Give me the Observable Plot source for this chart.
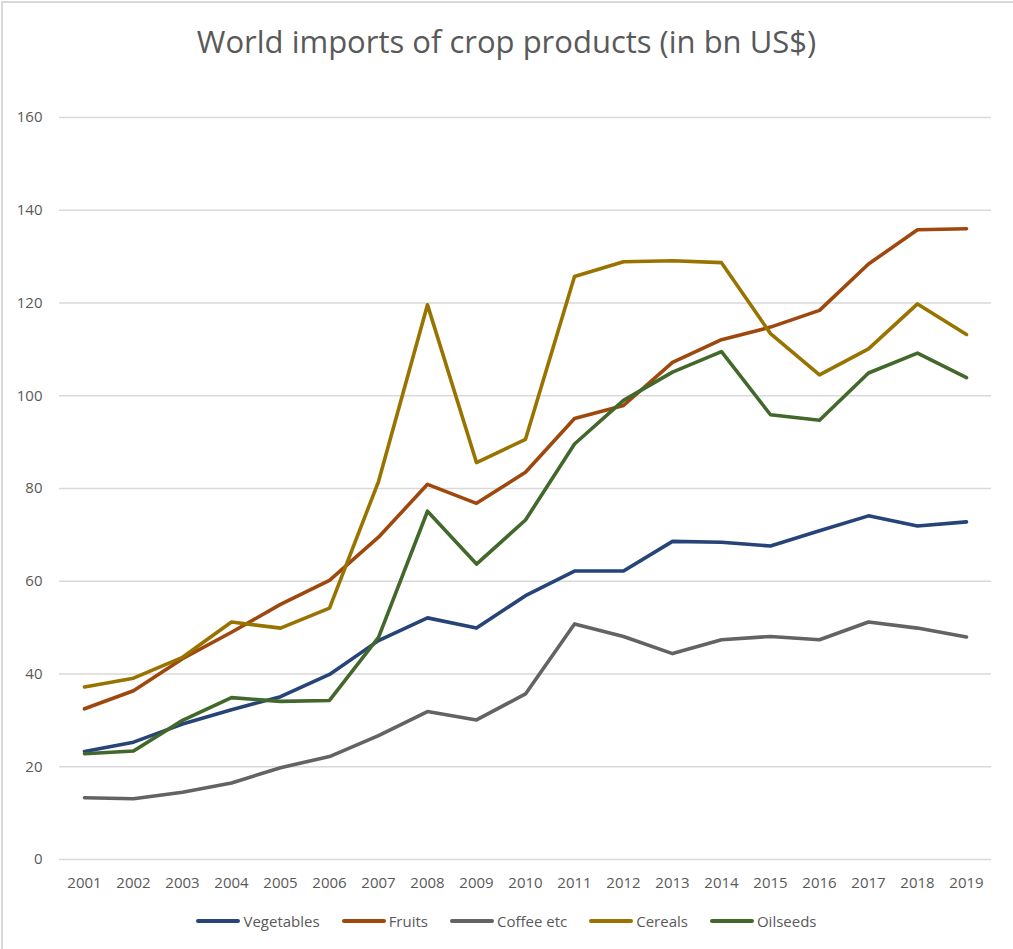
<!DOCTYPE html>
<html>
<head>
<meta charset="utf-8">
<script src="https://cdn.jsdelivr.net/npm/d3@7"></script>
<script src="https://cdn.jsdelivr.net/npm/@observablehq/plot@0.6"></script>
<style>
  html, body { margin: 0; padding: 0; background: #fff; }
  #chart { position: relative; width: 1013px; height: 949px; font-family: "Open Sans", "Noto Sans", sans-serif; color: #595959; overflow: hidden; }
  #frame { position: absolute; left: 1px; top: 1px; right: -10px; bottom: -10px; border: 2px solid #d9d9d9; box-sizing: border-box; }
  #title { position: absolute; left: 0; width: 1013px; top: 21px; text-align: center; font-size: 31px; line-height: 40px; color: #595959; }
  #plot { position: absolute; left: 0; top: 0; }
  #legend { position: absolute; left: 0; width: 1013px; top: 908px; display: flex; justify-content: center; align-items: center; font-size: 15px; line-height: 26px; }
  .item { display: flex; align-items: center; margin: 0 11px; }
  .item svg { margin-right: 3px; }
</style>
</head>
<body>
<div id="chart">
  <div id="frame"></div>
  <div id="title">World imports of crop products (in bn US$)</div>
  <div id="plot"></div>
  <div id="legend"></div>
</div>
<script>
// Years on the category axis
const years = ["2001","2002","2003","2004","2005","2006","2007","2008","2009","2010",
               "2011","2012","2013","2014","2015","2016","2017","2018","2019"];

// Imports by product group, bn US$
const vegetables = [23.3, 25.3, 29.2, 32.3, 35.1, 39.9, 47.2, 52.1, 49.9, 56.9,
                    62.2, 62.2, 68.6, 68.4, 67.6, 70.9, 74.1, 71.9, 72.8];
const fruits     = [32.5, 36.4, 43.3, 49.0, 55.0, 60.2, 69.5, 80.9, 76.8, 83.5,
                    95.1, 97.9, 107.2, 112.1, 114.8, 118.4, 128.4, 135.8, 136.0];
const coffee     = [13.3, 13.1, 14.5, 16.5, 19.8, 22.2, 26.7, 31.9, 30.1, 35.7,
                    50.8, 48.1, 44.4, 47.4, 48.1, 47.4, 51.2, 49.9, 48.0];
const cereals    = [37.2, 39.1, 43.6, 51.2, 49.9, 54.2, 81.5, 119.6, 85.6, 90.6,
                    125.7, 128.9, 129.1, 128.7, 113.4, 104.5, 110.1, 119.8, 113.2];
const oilseeds   = [22.8, 23.4, 30.0, 34.9, 34.1, 34.3, 47.9, 75.1, 63.7, 73.2,
                    89.6, 99.0, 105.1, 109.5, 95.9, 94.7, 104.9, 109.2, 103.9];

const seriesNames  = ["Vegetables", "Fruits", "Coffee etc", "Cereals", "Oilseeds"];
const seriesValues = [vegetables, fruits, coffee, cereals, oilseeds];
const seriesColors = ["#264478", "#9e480e", "#636363", "#997300", "#43682b"];
const yTicks = [0, 20, 40, 60, 80, 100, 120, 140, 160];

// Long-format table for the line mark
const rows = seriesNames.flatMap((name, i) =>
  years.map((year, j) => ({series: name, year, value: seriesValues[i][j]})));

const chart = Plot.plot({
  width: 1013,
  height: 905,
  marginTop: 117,
  marginBottom: 46,
  marginLeft: 59,
  marginRight: 22,
  style: {fontFamily: '"Open Sans", "Noto Sans", sans-serif', color: "#595959", background: "transparent"},
  x: {type: "point", domain: years, padding: 0.5, label: null},
  y: {domain: [0, 160], label: null},
  color: {domain: seriesNames, range: seriesColors},
  marks: [
    Plot.gridY(yTicks, {stroke: "#d9d9d9", strokeOpacity: 1, strokeWidth: 1.3}),
    Plot.axisY(yTicks, {tickSize: 0, tickPadding: 17, fontSize: 15, label: null}),
    Plot.axisX({tickSize: 0, tickPadding: 18, fontSize: 15, label: null}),
    Plot.line(rows, {x: "year", y: "value", z: "series", stroke: "series",
                     strokeWidth: 3.6, strokeLinecap: "round", strokeLinejoin: "round"})
  ]
});
document.getElementById("plot").appendChild(chart);

// Legend with line swatches
const legend = d3.select("#legend");
seriesNames.forEach((name, i) => {
  const item = legend.append("div").attr("class", "item");
  const sw = item.append("svg").attr("width", 44).attr("height", 8);
  sw.append("line").attr("x1", 2).attr("x2", 42).attr("y1", 4).attr("y2", 4)
    .attr("stroke", seriesColors[i]).attr("stroke-width", 4).attr("stroke-linecap", "round");
  item.append("span").text(name);
});
</script>
</body>
</html>
